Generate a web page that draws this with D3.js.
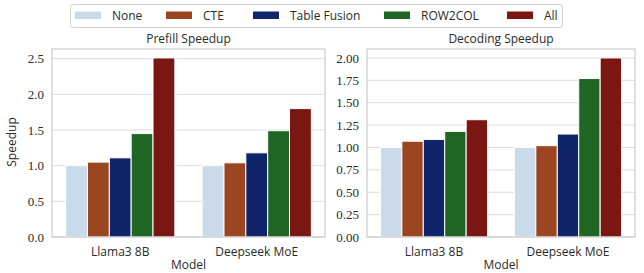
<!DOCTYPE html>
<html><head><meta charset="utf-8">
<script src="https://cdn.jsdelivr.net/npm/d3@7"></script>
<style>
body{margin:0;background:#fff;}
svg text{fill:#2a2a2a;}
</style></head>
<body><svg id="c" width="644" height="273"></svg>
<script>
const models = ["Llama3 8B", "Deepseek MoE"];
const methods = ["None", "CTE", "Table Fusion", "ROW2COL", "All"];
const colors = ["#c9daea", "#9b4521", "#0f2469", "#1f6524", "#7a1712"];
const prefill = [[1.00, 1.05, 1.11, 1.45, 2.51], [1.00, 1.04, 1.18, 1.49, 1.80]];
const decoding = [[1.00, 1.07, 1.09, 1.18, 1.31], [1.00, 1.02, 1.15, 1.77, 2.00]];
const prefillTicks = [0, 0.5, 1.0, 1.5, 2.0, 2.5];
const decodingTicks = [0, 0.25, 0.5, 0.75, 1.0, 1.25, 1.5, 1.75, 2.0];

const svg = d3.select("#c");
const sans = "'Open Sans', sans-serif";
const serif = "'Liberation Serif', serif";
const fs = 12;

function panel(x0, x1, title, data, ticks, fmt, ylabel) {
  const top = 49, bottom = 237;
  const maxV = d3.max(data.flat()) * 1.05;
  const y = d3.scaleLinear().domain([0, maxV]).range([bottom, top]);
  const xc = d3.scaleBand().domain(models).range([x0, x1]).paddingInner(0.2).paddingOuter(0.1);
  const xs = d3.scaleBand().domain(methods).range([0, xc.bandwidth()]);
  const g = svg.append("g");
  g.selectAll("line.grid").data(ticks).join("line")
    .attr("x1", x0).attr("x2", x1)
    .attr("y1", d => y(d)).attr("y2", d => y(d))
    .attr("stroke", "#dcdcdc").attr("stroke-width", 1);
  models.forEach((m, i) => {
    g.selectAll(null).data(data[i]).join("rect")
      .attr("x", (d, j) => xc(m) + xs(methods[j]))
      .attr("width", xs.bandwidth())
      .attr("y", d => y(d))
      .attr("height", d => bottom - y(d))
      .attr("fill", (d, j) => colors[j])
      .attr("stroke", "#fff").attr("stroke-width", 1);
  });
  g.append("rect").attr("x", x0).attr("y", top).attr("width", x1 - x0).attr("height", bottom - top)
    .attr("fill", "none").attr("stroke", "#cccccc").attr("stroke-width", 1.2);
  g.selectAll("text.yt").data(ticks).join("text")
    .attr("x", x0 - 8).attr("y", d => y(d)).attr("dy", "0.35em")
    .attr("text-anchor", "end").attr("font-family", serif).attr("font-size", 13)
    .text(d => d3.format(fmt)(d));
  g.selectAll("text.xt").data(models).join("text")
    .attr("x", d => xc(d) + xc.bandwidth() / 2).attr("y", 256)
    .attr("text-anchor", "middle").attr("font-family", sans).attr("font-size", fs)
    .text(d => d);
  g.append("text").attr("x", (x0 + x1) / 2).attr("y", 269).attr("text-anchor", "middle")
    .attr("font-family", sans).attr("font-size", fs).text("Model");
  g.append("text").attr("x", (x0 + x1) / 2).attr("y", 43).attr("text-anchor", "middle")
    .attr("font-family", sans).attr("font-size", fs).text(title);
  if (ylabel) {
    g.append("text").attr("transform", `translate(16,${(top + bottom) / 2 - 1}) rotate(-90)`)
      .attr("text-anchor", "middle").attr("font-family", sans).attr("font-size", fs).text(ylabel);
  }
}
panel(52, 325, "Prefill Speedup", prefill, prefillTicks, ".1f", "Speedup");
panel(367, 635, "Decoding Speedup", decoding, decodingTicks, ".2f", null);

const lg = svg.append("g");
lg.append("rect").attr("x", 70.5).attr("y", 4.5).attr("width", 492).attr("height", 23).attr("rx", 3)
  .attr("fill", "#fff").attr("stroke", "#d0d0d0");
const patchX = [75, 166, 253, 384, 507];
lg.selectAll("rect.p").data(methods).join("rect")
  .attr("x", (d, i) => patchX[i]).attr("y", 11.5).attr("width", 26).attr("height", 7.5)
  .attr("fill", (d, i) => colors[i]);
lg.selectAll("text").data(methods).join("text")
  .attr("x", (d, i) => patchX[i] + 37).attr("y", 16).attr("dy", "0.35em")
  .attr("font-family", sans).attr("font-size", fs).text(d => d);
</script></body></html>
